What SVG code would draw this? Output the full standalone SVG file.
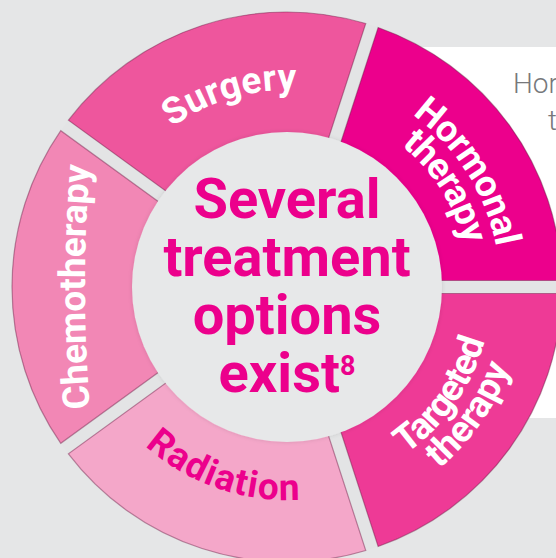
<svg xmlns="http://www.w3.org/2000/svg" width="556" height="558" viewBox="0 0 556 558">
<style>
.seg{stroke:#6e1a45;stroke-opacity:0.45;stroke-width:1.2}
.lbl{font-family:Roboto,"Liberation Sans",sans-serif;font-weight:700;font-size:37px;fill:#ffffff}
.ctr{font-family:Roboto,"Liberation Sans",sans-serif;font-weight:700;font-size:56px;fill:#EC008C}
.side{font-family:Roboto,"Liberation Sans",sans-serif;font-weight:300;font-size:28px;fill:#77787B}
</style>
<defs>
<filter id="sh" x="-10%" y="-10%" width="120%" height="120%">
<feDropShadow dx="0" dy="0" stdDeviation="2" flood-color="#000" flood-opacity="0.12"/>
</filter>
<path id="p-surgery" d="M90.37,274.97 A197,197 0 0 1 445.36,169.82"/>
<path id="p-horm1" d="M240.90,79.05 A213,213 0 0 1 455.98,416.67"/>
<path id="p-horm2" d="M247.61,109.31 A182,182 0 0 1 431.39,397.79"/>
<path id="p-targ1" d="M233.94,485.02 A205,205 0 0 0 454.93,169.42"/>
<path id="p-targ2" d="M225.66,515.93 A237,237 0 0 0 481.14,151.06"/>
<path id="p-rad" d="M74.03,290.72 A213,213 0 0 0 452.53,421.05"/>
<path id="p-chemo" d="M98.4,487 A1500,1500 0 0 1 98.4,87"/>
</defs>
<rect x="0" y="0" width="556" height="558" fill="#E5E6E7"/>
<rect x="380" y="47" width="176" height="371" fill="#FFFFFF"/>
<g id="side-text">
<text class="side" x="513" y="93">Hor</text>
<text class="side" x="548" y="130">t</text>
</g>
<circle cx="287" cy="287" r="275" fill="#E3E4E5"/>
<g id="surgery">
<path class="seg" fill="#EE569D" d="M68.40,120.15 A275,275 0 0 1 365.77,23.52 L327.13,142.47 A150,150 0 0 0 169.58,193.66 Z"/>
<text class="lbl" letter-spacing="0.3"><textPath href="#p-surgery" startOffset="50%" text-anchor="middle">Surgery</textPath></text>
</g>
<g id="hormonal">
<path class="seg" fill="#EC008C" d="M378.14,27.54 A275,275 0 0 1 561.92,280.50 L436.86,280.50 A150,150 0 0 0 339.49,146.48 Z"/>
<text class="lbl" letter-spacing="-0.5"><textPath href="#p-horm1" startOffset="50%" text-anchor="middle">Hormonal</textPath></text>
<text class="lbl" letter-spacing="-1"><textPath href="#p-horm2" startOffset="50%" text-anchor="middle">therapy</textPath></text>
</g>
<g id="targeted">
<path class="seg" fill="#EE3A96" d="M561.92,293.50 A275,275 0 0 1 378.14,546.46 L339.49,427.52 A150,150 0 0 0 436.86,293.50 Z"/>
<text class="lbl" letter-spacing="-1"><textPath href="#p-targ1" startOffset="50%" text-anchor="middle">Targeted</textPath></text>
<text class="lbl"><textPath href="#p-targ2" startOffset="50%" text-anchor="middle">therapy</textPath></text>
</g>
<g id="radiation">
<path class="seg" fill="#F4A7C9" d="M365.77,550.48 A275,275 0 0 1 68.40,453.85 L169.58,380.34 A150,150 0 0 0 327.13,431.53 Z"/>
<text class="lbl" letter-spacing="1.3" style="fill:#EC008C"><textPath href="#p-rad" startOffset="50%" text-anchor="middle">Radiation</textPath></text>
</g>
<g id="chemotherapy">
<path class="seg" fill="#F287B5" d="M60.76,443.34 A275,275 0 0 1 60.76,130.66 L161.94,204.17 A150,150 0 0 0 161.94,369.83 Z"/>
<text class="lbl"><textPath href="#p-chemo" startOffset="50%" text-anchor="middle">Chemotherapy</textPath></text>
</g>
<g id="center">
<circle cx="287" cy="287" r="155" fill="#E7E8E9" filter="url(#sh)"/>
<text class="ctr" text-anchor="middle" x="287" y="218">Several</text>
<text class="ctr" text-anchor="middle" x="287" y="276">treatment</text>
<text class="ctr" text-anchor="middle" x="287" y="334">options</text>
<text class="ctr" text-anchor="middle" x="287" y="392">exist<tspan font-size="27" dy="-17">8</tspan></text>
</g>
</svg>
